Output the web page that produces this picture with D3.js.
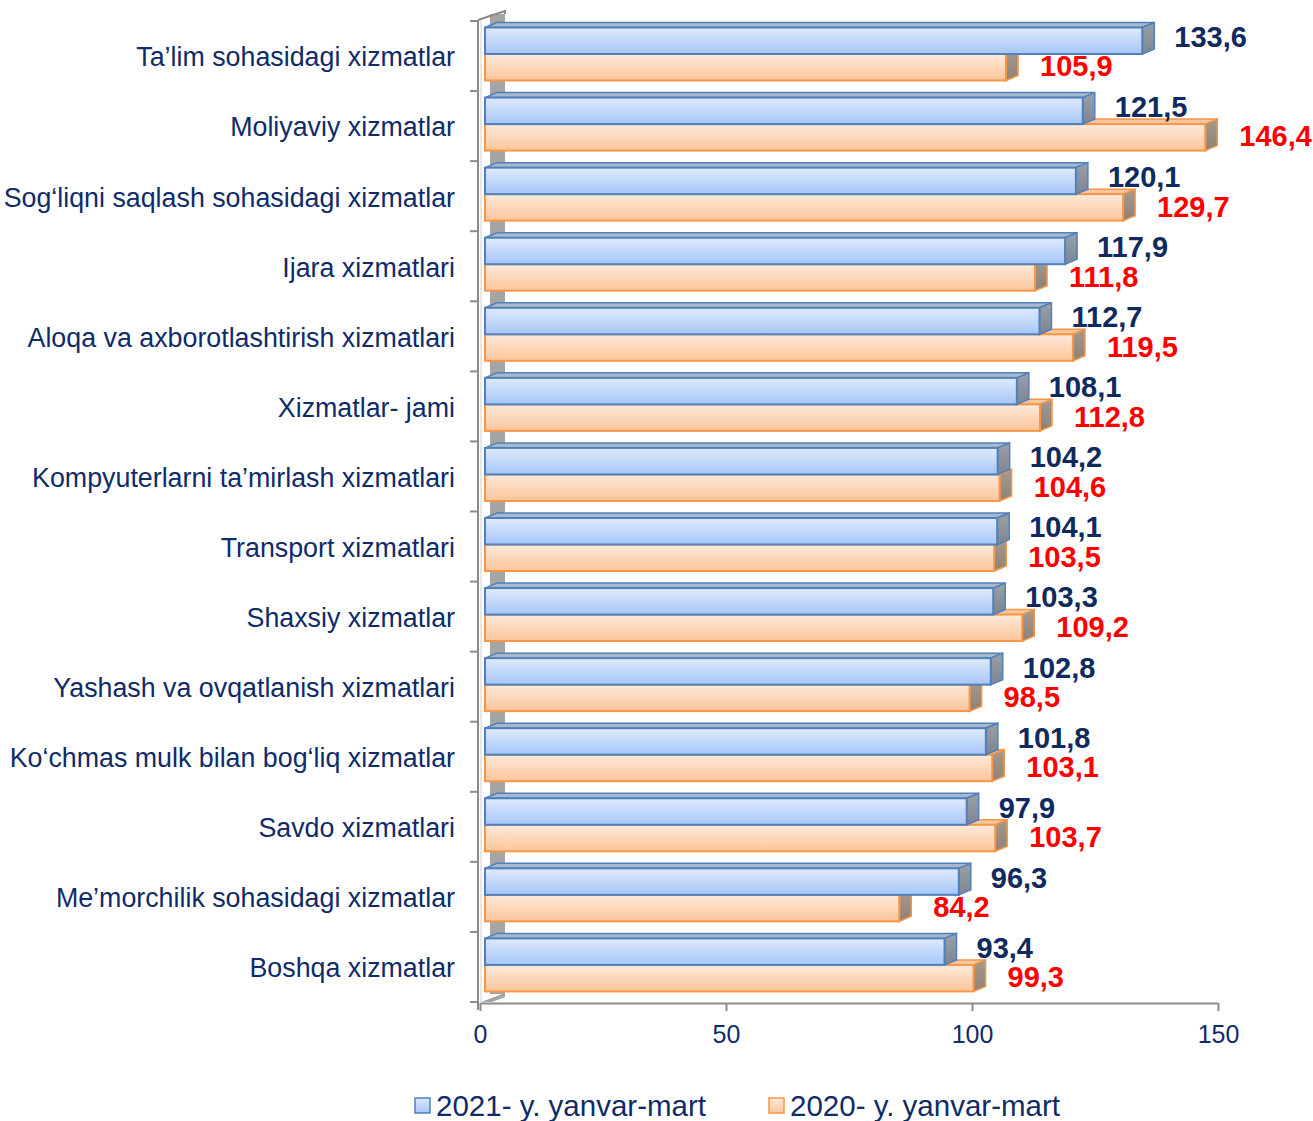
<!DOCTYPE html>
<html>
<head>
<meta charset="utf-8">
<script src="https://cdn.jsdelivr.net/npm/d3@7"></script>
<style>
  body { margin: 0; background: #fff; }
  text { font-family: Arial, "Liberation Sans", sans-serif; }
</style>
</head>
<body>
<div id="chart"></div>
<script>
// data
const categories = [
    "Ta’lim sohasidagi xizmatlar",
    "Moliyaviy xizmatlar",
    "Sog‘liqni saqlash sohasidagi xizmatlar",
    "Ijara xizmatlari",
    "Aloqa va axborotlashtirish xizmatlari",
    "Xizmatlar- jami",
    "Kompyuterlarni ta’mirlash xizmatlari",
    "Transport xizmatlari",
    "Shaxsiy xizmatlar",
    "Yashash va ovqatlanish xizmatlari",
    "Ko‘chmas mulk bilan bog‘liq xizmatlar",
    "Savdo xizmatlari",
    "Me’morchilik sohasidagi xizmatlar",
    "Boshqa xizmatlar"
];
const values2021 = [133.6, 121.5, 120.1, 117.9, 112.7, 108.1, 104.2, 104.1, 103.3, 102.8, 101.8, 97.9, 96.3, 93.4];
const values2020 = [105.9, 146.4, 129.7, 111.8, 119.5, 112.8, 104.6, 103.5, 109.2, 98.5, 103.1, 103.7, 84.2, 99.3];
const seriesNames = ["2021- y. yanvar-mart", "2020- y. yanvar-mart"];
const xTicks = [0, 50, 100, 150];

const width = 1313, height = 1121;
const textColor = "#0f2b68";
const dx = 12, dy = 5; // 3d depth offset

const svg = d3.select("#chart").append("svg")
    .attr("width", width)
    .attr("height", height);

const defs = svg.append("defs");
function grad(id, c1, c2) {
    let g = defs.append("linearGradient").attr("id", id)
        .attr("x1", 0).attr("y1", 0).attr("x2", 0).attr("y2", 1);
    g.append("stop").attr("offset", "0%").attr("stop-color", c1);
    g.append("stop").attr("offset", "100%").attr("stop-color", c2);
}
grad("gBlue", "#dfeafd", "#a6c6f7");
grad("gOrange", "#feeadb", "#fbc59b");
grad("gBlueSide", "#9aa0aa", "#7f8590");
grad("gOrangeSide", "#a8998d", "#8f8174");

const x = d3.scaleLinear().domain([0, 150]).range([480, 1218]);
const y = d3.scaleBand().domain(categories).range([21, 1002]);

// back wall
svg.append("rect")
    .attr("x", 490).attr("y", 14)
    .attr("width", 15).attr("height", 980)
    .attr("fill", "#a5a5a5");
svg.append("path")
    .attr("d", "M478,20 L505,11 L505,14")
    .attr("fill", "none").attr("stroke", "#8c8c8c").attr("stroke-width", 2);
svg.append("path")
    .attr("d", "M481,1002 L505,993 L505,997 L492,1002 Z")
    .attr("fill", "#a5a5a5");

// vertical axis line + ticks
svg.append("line")
    .attr("x1", 478).attr("x2", 478).attr("y1", 20).attr("y2", 1010)
    .attr("stroke", "#8c8c8c").attr("stroke-width", 2);
svg.append("line")
    .attr("x1", 481).attr("x2", 481).attr("y1", 20).attr("y2", 1002)
    .attr("stroke", "#d0d0d0").attr("stroke-width", 1);
svg.selectAll(".ytick")
    .data(categories.concat(["end"]))
    .enter().append("line")
    .attr("x1", 470).attr("x2", 478)
    .attr("y1", (d, i) => 21 + i * y.step())
    .attr("y2", (d, i) => 21 + i * y.step())
    .attr("stroke", "#8c8c8c").attr("stroke-width", 2);

// horizontal axis
const xAxis = svg.append("g")
    .attr("transform", "translate(0,1003)")
    .call(d3.axisBottom(x).tickValues(xTicks).tickSize(8).tickPadding(14).tickSizeOuter(0));
xAxis.select(".domain").attr("stroke", "#8c8c8c").attr("stroke-width", 2);
xAxis.selectAll(".tick line").attr("stroke", "#8c8c8c").attr("stroke-width", 2);
xAxis.selectAll(".tick text")
    .attr("fill", textColor)
    .style("font-size", "25px")
    .style("font-family", "Arial, 'Liberation Sans', sans-serif");

// bars
function bar3d(g, v, top, h, front, side, topFill, stroke) {
    let x0 = x(0) + 5;
    let x1 = x(v) + 5;
    // top face
    g.append("path")
        .attr("d", `M${x0},${top} L${x0 + dx},${top - dy} L${x1 + dx},${top - dy} L${x1},${top} Z`)
        .attr("fill", topFill).attr("stroke", stroke).attr("stroke-width", 1.5);
    // right face
    g.append("path")
        .attr("d", `M${x1},${top} L${x1 + dx},${top - dy} L${x1 + dx},${top + h - dy} L${x1},${top + h} Z`)
        .attr("fill", side).attr("stroke", stroke).attr("stroke-width", 1.5);
    // front
    g.append("rect")
        .attr("x", x0).attr("y", top)
        .attr("width", x1 - x0).attr("height", h)
        .attr("fill", front).attr("stroke", stroke).attr("stroke-width", 2);
}

const barH = 26.5;
categories.forEach((c, i) => {
    let g = svg.append("g").attr("class", "cat");
    let top = y(c) + 6.5;
    bar3d(g, values2020[i], top + barH, barH, "url(#gOrange)", "url(#gOrangeSide)", "#f2c7a2", "#f79646");
    bar3d(g, values2021[i], top, barH, "url(#gBlue)", "url(#gBlueSide)", "#a9b8cc", "#4f81bd");

    // category label
    svg.append("text")
        .attr("x", 455)
        .attr("y", y(c) + y.bandwidth() / 2 + 1)
        .attr("dy", "0.35em")
        .attr("text-anchor", "end")
        .attr("fill", textColor)
        .style("font-size", "26.8px")
        .text(c);

    // value labels
    svg.append("text")
        .attr("x", x(values2021[i]) + 5 + dx + 20)
        .attr("y", top + barH / 2 - 4)
        .attr("dy", "0.35em")
        .attr("fill", "#0f2a5e")
        .style("font-size", "29px")
        .style("font-weight", "bold")
        .text(d3.format(".1f")(values2021[i]).replace(".", ","));
    svg.append("text")
        .attr("x", x(values2020[i]) + 5 + dx + 22)
        .attr("y", top + barH * 1.5 - 1)
        .attr("dy", "0.35em")
        .attr("fill", "#ff0000")
        .style("font-size", "29px")
        .style("font-weight", "bold")
        .text(d3.format(".1f")(values2020[i]).replace(".", ","));
});

// legend
const legendX = [415, 769];
const legendFill = ["url(#gBlue)", "url(#gOrange)"];
const legendStroke = ["#4f81bd", "#f79646"];
seriesNames.forEach((s, i) => {
    svg.append("rect")
        .attr("x", legendX[i]).attr("y", 1098)
        .attr("width", 15).attr("height", 15)
        .attr("fill", legendFill[i])
        .attr("stroke", legendStroke[i]).attr("stroke-width", 1.5);
    svg.append("text")
        .attr("x", legendX[i] + 21)
        .attr("y", 1116)
        .attr("fill", textColor)
        .style("font-size", "29.5px")
        .text(s);
});
</script>
</body>
</html>
